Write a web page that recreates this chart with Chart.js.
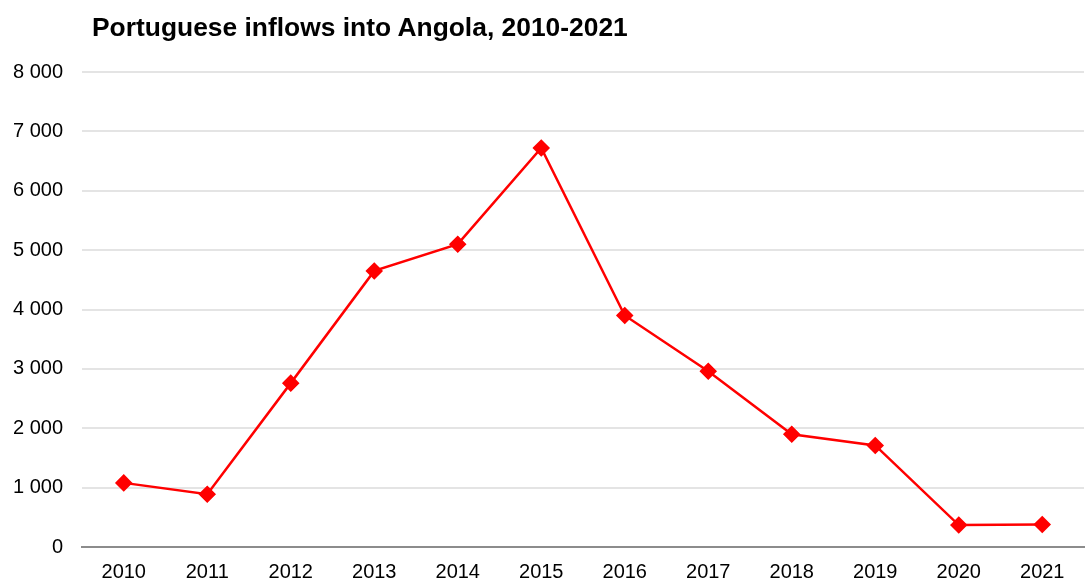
<!DOCTYPE html>
<html>
<head>
<meta charset="utf-8">
<script src="https://cdn.jsdelivr.net/npm/chart.js@4"></script>
<style>
  html, body { margin: 0; padding: 0; background: #fff; overflow: hidden; }
  #wrap { position: relative; width: 1087px; height: 580px; }
  #chart { display: block; }
  #title { position: absolute; left: 92px; top: 12px; line-height: 1; font: bold 26.4px "Liberation Sans", Arial, sans-serif; color: #000; white-space: nowrap; }
</style>
</head>
<body>
<div id="wrap">
  <div id="title">Portuguese inflows into Angola, 2010-2021</div>
  <canvas id="chart" width="1087" height="580"></canvas>
</div>
<script>
// data
const years = ['2010','2011','2012','2013','2014','2015','2016','2017','2018','2019','2020','2021'];
const inflows = [1080, 890, 2760, 4650, 5100, 6720, 3900, 2960, 1900, 1710, 370, 380];
const yTicks = [0, 1000, 2000, 3000, 4000, 5000, 6000, 7000, 8000];

// 1000 -> "1 000"
function fmt(v) {
  return String(v).replace(/\B(?=(\d{3})+(?!\d))/g, ' ');
}

// no auto padding from tick labels, the plot area is fixed by layout.padding
const noPad = () => ({ left: 0, right: 0, top: 0, bottom: 0 });

const ctx = document.getElementById('chart').getContext('2d');
new Chart(ctx, {
  type: 'line',
  data: {
    labels: years,
    datasets: [{
      data: inflows,
      borderColor: '#ff0000',
      backgroundColor: '#ff0000',
      borderWidth: 2.5,
      pointStyle: 'rectRot',
      pointRadius: 7,
      pointHoverRadius: 7,
      tension: 0,
      fill: false
    }]
  },
  options: {
    responsive: false,
    animation: false,
    layout: { autoPadding: false, padding: { top: 72, right: 3, left: 0, bottom: 0 } },
    plugins: { legend: { display: false }, tooltip: { enabled: false } },
    scales: {
      x: {
        offset: true,
        grid: { display: false, drawTicks: false },
        border: { display: true, color: '#8c8c8c', width: 2 },
        ticks: { color: '#000', padding: 13, font: { family: 'Liberation Sans', size: 20 }, maxRotation: 0 },
        afterFit: (s) => { s.height = 33; s.getPadding = noPad; }
      },
      y: {
        min: 0,
        max: 8000,
        afterBuildTicks: (s) => { s.ticks = yTicks.map(v => ({ value: v })); },
        grid: {
          color: (c) => c.tick && c.tick.value === 0 ? 'rgba(0,0,0,0)' : '#e4e4e4',
          lineWidth: 2,
          drawTicks: false
        },
        border: { display: false },
        ticks: { color: '#000', padding: 19, font: { family: 'Liberation Sans', size: 20 }, callback: (v) => fmt(v) },
        afterFit: (s) => { s.width = 82; s.getPadding = noPad; }
      }
    }
  }
});
</script>
</body>
</html>
